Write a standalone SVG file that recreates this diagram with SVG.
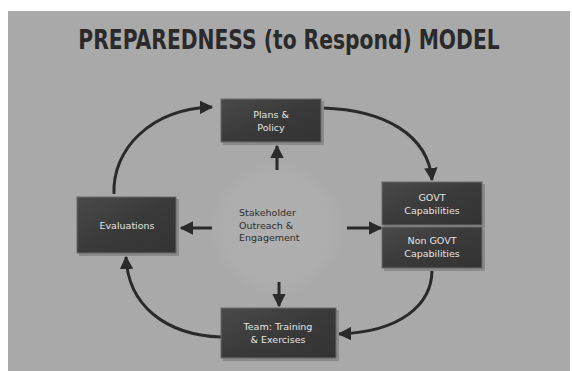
<svg xmlns="http://www.w3.org/2000/svg" width="572" height="371" viewBox="0 0 572 371">
<style>
.bx{fill:url(#bg);stroke:#6a6a6a;stroke-width:1}
.sh{fill:#8a8a8a}
.lb{font-family:"DejaVu Sans",sans-serif;font-size:9.5px;fill:#e4e4e4;text-anchor:middle}
.ct{font-family:"DejaVu Sans",sans-serif;font-size:9.5px;fill:#2e2e2e}
.cv{fill:none;stroke:#2a2a2a;stroke-width:3}
.st{fill:none;stroke:#2a2a2a;stroke-width:3}
</style>
<defs>
<linearGradient id="bg" x1="0" y1="0" x2="1" y2="1">
<stop offset="0" stop-color="#4a4a4a"/>
<stop offset="0.5" stop-color="#3a3a3a"/>
<stop offset="1" stop-color="#333"/>
</linearGradient>
<radialGradient id="glow">
<stop offset="0" stop-color="#b0b0b0"/>
<stop offset="0.8" stop-color="#adadad"/>
<stop offset="1" stop-color="#a9a9a9"/>
</radialGradient>
<marker id="ah" viewBox="0 0 10 10" refX="9" refY="5" markerWidth="4.5" markerHeight="4.5" markerUnits="strokeWidth" orient="auto">
<path d="M0,0 L10,5 L0,10 z" fill="#2a2a2a"/>
</marker>
</defs>
<rect x="0" y="0" width="572" height="371" fill="#ffffff"/>
<rect x="8" y="11" width="562" height="360" fill="#a9a9a9"/>
<circle cx="277" cy="228" r="68" fill="url(#glow)"/>
<text transform="translate(289,49) scale(0.78,1)" x="0" y="0" font-family="DejaVu Sans,sans-serif" font-weight="bold" font-size="26" fill="#2a2a2a" text-anchor="middle">PREPAREDNESS (to Respond) MODEL</text>

<g id="connectors">
<path class="cv" d="M114,194 C112,150 150,109 212,107" marker-end="url(#ah)"/>
<path class="cv" d="M323,108 C385,110 428,135 432,180" marker-end="url(#ah)"/>
<path class="cv" d="M432,270 C432,305 400,332 339,334" marker-end="url(#ah)"/>
<path class="cv" d="M221,337 C165,335 128,305 126,257" marker-end="url(#ah)"/>
<path class="st" d="M277,170 L277,146" marker-end="url(#ah)"/>
<path class="st" d="M212,228 L181,228" marker-end="url(#ah)"/>
<path class="st" d="M347,228 L381,228" marker-end="url(#ah)"/>
<path class="st" d="M279,282 L279,306" marker-end="url(#ah)"/>
</g>

<g id="plans">
<rect class="sh" x="223" y="101" width="101" height="44"/>
<rect class="bx" x="221" y="99" width="100" height="43"/>
<text class="lb" x="271" y="118">Plans &amp;</text>
<text class="lb" x="271" y="131">Policy</text>
</g>

<g id="evaluations">
<rect class="sh" x="79" y="199" width="100" height="57"/>
<rect class="bx" x="77" y="197" width="99" height="56"/>
<text class="lb" x="127" y="229">Evaluations</text>
</g>

<g id="govt">
<rect class="sh" x="384" y="184" width="101" height="44"/>
<rect class="bx" x="382" y="182" width="100" height="43"/>
<text class="lb" x="432" y="201">GOVT</text>
<text class="lb" x="432" y="214">Capabilities</text>
</g>

<g id="nongovt">
<rect class="sh" x="384" y="229" width="101" height="42"/>
<rect class="bx" x="382" y="227" width="100" height="41"/>
<text class="lb" x="432" y="244">Non GOVT</text>
<text class="lb" x="432" y="257">Capabilities</text>
</g>

<g id="team">
<rect class="sh" x="223" y="310" width="116" height="51"/>
<rect class="bx" x="221" y="308" width="115" height="50"/>
<text class="lb" x="278" y="330">Team: Training</text>
<text class="lb" x="278" y="343">&amp; Exercises</text>
</g>

<g id="stakeholder">
<text class="ct" x="239" y="216">Stakeholder</text>
<text class="ct" x="239" y="229">Outreach &amp;</text>
<text class="ct" x="239" y="241">Engagement</text>
</g>
</svg>
